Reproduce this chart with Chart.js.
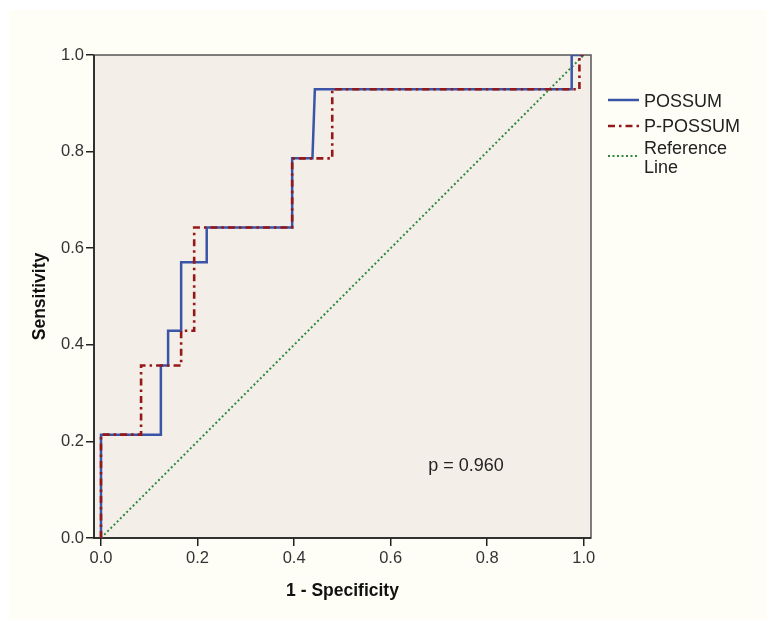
<!DOCTYPE html>
<html>
<head>
<meta charset="utf-8">
<script src="https://cdn.jsdelivr.net/npm/chart.js@4.4.1/dist/chart.umd.min.js"></script>
<style>
html,body{margin:0;padding:0;background:#ffffff;width:771px;height:626px;overflow:hidden;}
#bg{position:absolute;left:9px;top:10px;width:758px;height:610px;background:#FEFEF7;}
#wrap{position:absolute;left:0;top:0;width:771px;height:626px;}
.lg{position:absolute;font-family:"Liberation Sans",Arial,sans-serif;font-size:18px;line-height:19px;color:#222;white-space:nowrap;}
.sw{position:absolute;}
</style>
</head>
<body>
<div id="bg"></div>
<div id="wrap"><canvas id="c" width="771" height="626"></canvas></div>
<svg class="sw" style="left:608px;top:95px" width="31" height="10"><line x1="0" y1="5" x2="31" y2="5" stroke="#3A55A8" stroke-width="2.5"/></svg>
<div class="lg" id="lg0" style="left:644px;top:92px"></div>
<svg class="sw" style="left:608px;top:121px" width="31" height="10"><line x1="0" y1="5" x2="31" y2="5" stroke="#951818" stroke-width="2.6" stroke-dasharray="7 4 2.5 4"/></svg>
<div class="lg" id="lg1" style="left:644px;top:117px"></div>
<svg class="sw" style="left:608px;top:151px" width="31" height="10"><line x1="0" y1="5" x2="31" y2="5" stroke="#2E8B3E" stroke-width="2" stroke-dasharray="2 2.5"/></svg>
<div class="lg" id="lg2" style="left:644px;top:139px">Reference<br>Line</div>
<script>
// ---- data ----
const possumFPR  = [0, 0, 0.124, 0.124, 0.139, 0.139, 0.166, 0.166, 0.219, 0.219, 0.396, 0.396, 0.438, 0.443, 0.975, 0.975, 1.0];
const possumTPR  = [0, 0.214, 0.214, 0.357, 0.357, 0.429, 0.429, 0.571, 0.571, 0.643, 0.643, 0.786, 0.786, 0.929, 0.929, 1.0, 1.0];
const ppossumFPR = [0, 0, 0.083, 0.083, 0.166, 0.166, 0.193, 0.193, 0.396, 0.396, 0.479, 0.479, 0.991, 0.991, 1.0];
const ppossumTPR = [0, 0.214, 0.214, 0.357, 0.357, 0.429, 0.429, 0.643, 0.643, 0.786, 0.786, 0.929, 0.929, 1.0, 1.0];
const refFPR = [0, 1];
const refTPR = [0, 1];
const seriesNames = ['POSSUM', 'P-POSSUM', 'Reference Line'];
const xTicks = [0, 0.2, 0.4, 0.6, 0.8, 1.0];
const yTicks = [0, 0.2, 0.4, 0.6, 0.8, 1.0];
const xTitle = '1 - Specificity';
const yTitle = 'Sensitivity';
const pValueText = 'p = 0.960';
const pValuePos = [0.756, 0.149];

document.getElementById('lg0').textContent = seriesNames[0];
document.getElementById('lg1').textContent = seriesNames[1];

const FAM = '"Liberation Sans", Arial, sans-serif';
const pts = (xs, ys) => xs.map((x, i) => ({x: x, y: ys[i]}));

const framePlugin = {
  id: 'frame',
  beforeDraw(chart) {
    const a = chart.chartArea, ctx = chart.ctx;
    ctx.save();
    ctx.fillStyle = '#F4EEE8';
    ctx.fillRect(a.left, a.top, a.right - a.left, a.bottom - a.top);
    ctx.restore();
  },
  beforeDatasetsDraw(chart) {
    const a = chart.chartArea, ctx = chart.ctx;
    ctx.save();
    ctx.strokeStyle = '#555555';
    ctx.lineWidth = 1.5;
    ctx.strokeRect(a.left, a.top, a.right - a.left, a.bottom - a.top);
    ctx.strokeStyle = '#1a1a1a';
    ctx.beginPath();
    ctx.moveTo(a.left, a.top); ctx.lineTo(a.left, a.bottom); ctx.lineTo(a.right, a.bottom);
    ctx.stroke();
    ctx.restore();
  },
  afterDatasetsDraw(chart) {
    const ctx = chart.ctx;
    const x = chart.scales.x.getPixelForValue(pValuePos[0]);
    const y = chart.scales.y.getPixelForValue(pValuePos[1]);
    ctx.save();
    ctx.font = '18px ' + FAM;
    ctx.fillStyle = '#222';
    ctx.textAlign = 'center';
    ctx.textBaseline = 'middle';
    ctx.fillText(pValueText, x, y);
    ctx.restore();
  }
};

new Chart(document.getElementById('c'), {
  type: 'line',
  data: {
    datasets: [
      { label: seriesNames[1], data: pts(ppossumFPR, ppossumTPR), borderColor: '#951818', borderWidth: 2.6, borderDash: [7, 4, 2.5, 4], order: 0 },
      { label: seriesNames[0], data: pts(possumFPR, possumTPR), borderColor: '#3A55A8', borderWidth: 2.5, order: 1 },
      { label: seriesNames[2], data: pts(refFPR, refTPR), borderColor: '#2E8B3E', borderWidth: 2, borderDash: [2, 2.5], order: 2 }
    ]
  },
  options: {
    responsive: false,
    animation: false,
    parsing: true,
    layout: { padding: { left: 22, top: 55, right: 180, bottom: 20 } },
    plugins: { legend: { display: false }, tooltip: { enabled: false } },
    elements: { point: { radius: 0 }, line: { tension: 0, fill: false } },
    scales: {
      x: {
        type: 'linear', min: -0.0145, max: 1.015,
        afterBuildTicks: s => { s.ticks = xTicks.map(v => ({ value: v })); },
        afterFit: s => { s.height = 68; },
        ticks: { callback: v => Number(v).toFixed(1), font: { size: 16.5, family: FAM }, color: '#333', padding: 3, maxRotation: 0, autoSkip: false },
        grid: { display: true, drawOnChartArea: false, drawTicks: true, tickLength: 8, color: '#222', lineWidth: 1.5 },
        border: { display: false },
        title: { display: true, text: xTitle, font: { size: 17.5, weight: 'bold', family: FAM }, color: '#111', padding: { top: 0, bottom: 4.5 } }
      },
      y: {
        type: 'linear', min: 0, max: 1,
        afterBuildTicks: s => { s.ticks = yTicks.map(v => ({ value: v })); },
        afterFit: s => { s.width = 72; },
        ticks: { callback: v => Number(v).toFixed(1), font: { size: 16.5, family: FAM }, color: '#333', padding: 2, autoSkip: false },
        grid: { display: true, drawOnChartArea: false, drawTicks: true, tickLength: 8, color: '#222', lineWidth: 1.5 },
        border: { display: false },
        title: { display: true, text: yTitle, font: { size: 17.5, weight: 'bold', family: FAM }, color: '#111', padding: { top: 8, bottom: 0 } }
      }
    }
  },
  plugins: [framePlugin]
});
</script>
</body>
</html>
